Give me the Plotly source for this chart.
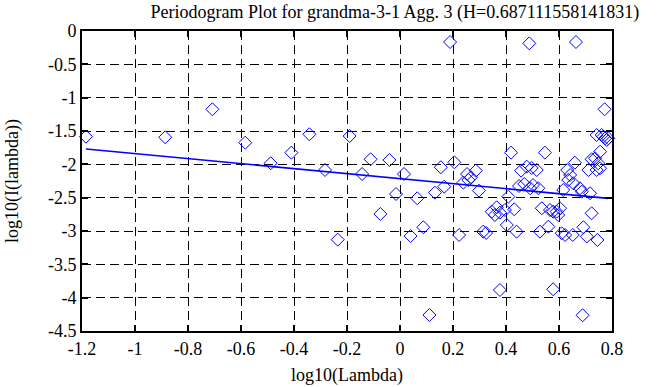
import plotly.graph_objects as go

# ---- data ----
log_lambda = [
    -1.185, -0.886, -0.708, -0.584, -0.488, -0.410, -0.342, -0.283, -0.235, -0.190,
    -0.143, -0.111, -0.074, -0.040, -0.015, 0.015, 0.040, 0.065, 0.088, 0.111,
    0.132, 0.154, 0.167, 0.189, 0.205, 0.223, 0.239, 0.253, 0.258, 0.268,
    0.286, 0.298, 0.314, 0.325, 0.346, 0.358, 0.365, 0.377, 0.377, 0.396,
    0.403, 0.409, 0.419, 0.431, 0.440, 0.449, 0.457, 0.469, 0.478, 0.488,
    0.491, 0.497, 0.502, 0.516, 0.522, 0.528, 0.535, 0.547, 0.560, 0.566,
    0.578, 0.578, 0.591, 0.597, 0.604, 0.610, 0.616, 0.623, 0.631, 0.635,
    0.642, 0.652, 0.654, 0.660, 0.664, 0.679, 0.686, 0.689, 0.692, 0.705,
    0.711, 0.717, 0.723, 0.723, 0.736, 0.742, 0.745, 0.748, 0.755, 0.755,
    0.761, 0.772, 0.774, 0.780, 0.742, 0.786, 0.767,
]
log_I = [
    -1.585, -1.594, -1.174, -1.675, -1.984, -1.825, -1.549, -2.085, -3.130, -1.575,
    -2.145, -1.924, -2.745, -1.935, -2.445, -2.145, -3.075, -2.509, -2.944, -4.260,
    -2.425, -2.044, -2.335, -0.165, -1.969, -3.060, -2.275, -2.145, -2.235, -2.194,
    -2.095, -2.395, -3.010, -3.030, -2.710, -2.760, -2.644, -2.725, -3.885, -2.685,
    -2.910, -2.485, -1.825, -2.674, -3.010, -2.325, -2.095, -2.295, -2.035, -0.185,
    -2.359, -2.055, -2.310, -2.085, -2.359, -3.010, -2.659, -1.825, -2.935, -2.685,
    -2.710, -3.874, -2.710, -2.760, -2.659, -3.034, -2.385, -3.060, -2.085, -2.235,
    -2.160, -3.060, -2.284, -1.975, -0.165, -2.359, -2.410, -4.264, -2.944, -3.082,
    -2.085, -2.434, -2.734, -1.924, -1.909, -2.085, -3.135, -1.984, -1.810, -2.059,
    -1.560, -1.174, -1.609, -1.635, -1.560, -1.609, -1.585,
]
fit_x = [-1.185, 0.786]
fit_y = [-1.77, -2.51]

x_ticks = [-1.2, -1.0, -0.8, -0.6, -0.4, -0.2, 0.0, 0.2, 0.4, 0.6, 0.8]
x_labels = ["-1.2", "-1", "-0.8", "-0.6", "-0.4", "-0.2", "0", "0.2", "0.4", "0.6", "0.8"]
y_ticks = [0, -0.5, -1, -1.5, -2, -2.5, -3, -3.5, -4, -4.5]
y_labels = ["0", "-0.5", "-1", "-1.5", "-2", "-2.5", "-3", "-3.5", "-4", "-4.5"]

title_text = "Periodogram Plot for grandma-3-1 Agg. 3 (H=0.687111558141831)"
x_title = "log10(Lambda)"
y_title = "log10(I(lambda))"

FONT = "Liberation Serif, Times New Roman, serif"
FS = 18

fig = go.Figure()
fig.add_trace(go.Scatter(
    x=log_lambda, y=log_I, mode="markers",
    marker=dict(symbol="diamond-open", size=10, color="#0000ff",
                line=dict(width=1, color="#0000ff")),
    showlegend=False, cliponaxis=False, hoverinfo="skip",
))
fig.add_trace(go.Scatter(
    x=fit_x, y=fit_y, mode="lines",
    line=dict(color="#0000ff", width=1.6),
    showlegend=False, hoverinfo="skip",
))

axis_common = dict(
    showline=True, linecolor="black", linewidth=2, mirror="ticks",
    ticks="inside", ticklen=6, tickwidth=2, tickcolor="black",
    showgrid=True, gridcolor="black", gridwidth=1, griddash="9px,5px",
    zeroline=False,
    tickfont=dict(family=FONT, size=FS, color="black"),
)

fig.update_layout(
    width=658, height=387,
    margin=dict(l=82, r=46, t=31, b=56),
    paper_bgcolor="white", plot_bgcolor="white",
    font=dict(family=FONT, size=FS, color="black"),
    title=dict(text=title_text, x=395 / 658, xanchor="center",
               y=1 - 12 / 387, yanchor="middle", yref="container",
               font=dict(family=FONT, size=FS, color="black")),
    xaxis=dict(range=[-1.2, 0.8], tickvals=x_ticks, ticktext=x_labels, **axis_common),
    yaxis=dict(range=[-4.5, 0], tickvals=y_ticks, ticktext=y_labels, **axis_common),
    annotations=[
        dict(text=x_title, xref="paper", yref="paper", x=0.5, y=0,
             yshift=-44, xanchor="center", yanchor="middle", showarrow=False,
             font=dict(family=FONT, size=FS, color="black")),
        dict(text=y_title, xref="paper", yref="paper", x=0, y=0.5,
             xshift=-70, xanchor="center", yanchor="middle", showarrow=False,
             textangle=-90,
             font=dict(family=FONT, size=FS, color="black")),
    ],
)

fig.write_html("out.html",
               config={"displayModeBar": False, "staticPlot": True},
               post_script="document.body.style.margin='0';document.body.style.overflow='hidden';")
